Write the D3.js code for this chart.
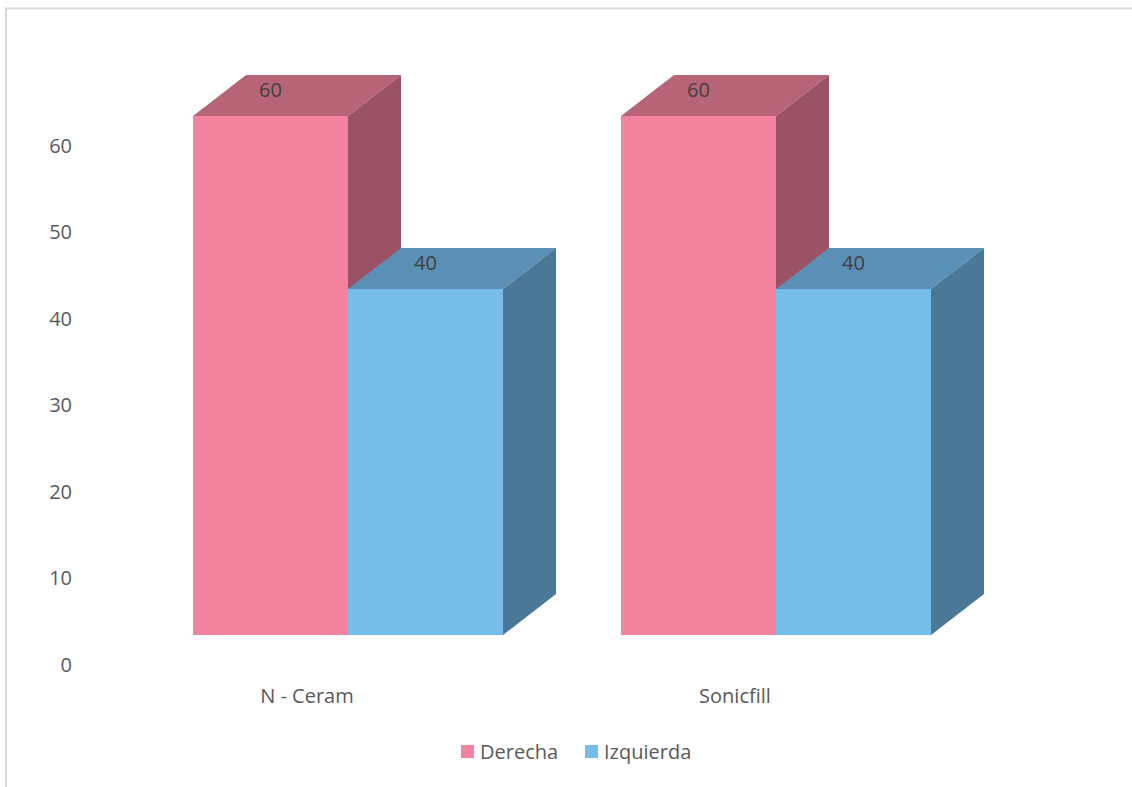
<!DOCTYPE html>
<html>
<head>
<meta charset="utf-8">
<script src="https://cdn.jsdelivr.net/npm/d3@7"></script>
<style>
  body { margin: 0; background: #fff; }
  text { font-family: "Open Sans", "Noto Sans", sans-serif; fill: #595959; }
</style>
</head>
<body>
<svg id="chart" width="1132" height="787"></svg>
<script>
// categories and series
var categories = ['N - Ceram', 'Sonicfill']
var seriesNames = ['Derecha', 'Izquierda']
var derecha = [60, 60]
var izquierda = [40, 40]
var yTicks = [0, 10, 20, 30, 40, 50, 60]

var colors = {
  Derecha: { front: '#F4839F', top: '#B86477', side: '#9A5264' },
  Izquierda: { front: '#75BEE9', top: '#5A90B5', side: '#4A7896' }
}

var svg = d3.select('#chart')

// light frame, left and top edges only visible
svg.append('path')
  .attr('d', 'M6,787 V8.5 H1132')
  .attr('fill', 'none')
  .attr('stroke', '#d9d9d9')
  .attr('stroke-width', 2)

var depthX = 53
var depthY = 41

// front faces of the columns
var y = d3.scaleLinear().domain([0, 60]).range([635, 116])
// value labels on the back wall
var yAxisScale = d3.scaleLinear().domain([0, 60]).range([665, 146])

var x0 = d3.scalePoint().domain(categories).range([348, 776])
var x1 = d3.scaleBand().domain(seriesNames).range([-155, 155])

var yAxis = svg.append('g')
  .attr('transform', 'translate(72,0)')
  .call(d3.axisLeft(yAxisScale).tickValues(yTicks).tickSize(0).tickPadding(0))
yAxis.select('.domain').remove()
yAxis.selectAll('text')
  .style('font-size', '20px')
  .attr('font-family', null)
  .style('fill', '#595959')

// flatten into one record per column
var bars = []
categories.forEach(function (c, i) {
  bars.push({ cat: c, name: 'Derecha', value: derecha[i] })
  bars.push({ cat: c, name: 'Izquierda', value: izquierda[i] })
})

// draw back-to-front so the right column's faces cover the left one's side
var g = svg.append('g')
var node = g.selectAll('g.bar')
  .data(bars)
  .enter()
  .append('g')
  .attr('class', 'bar')

function corners (d) {
  var xl = x0(d.cat) + x1(d.name)
  var xr = xl + x1.bandwidth()
  return { xl: xl, xr: xr, yt: y(d.value), yb: y(0) }
}

// top face
node.append('path')
  .attr('fill', function (d) { return colors[d.name].top })
  .attr('d', function (d) {
    var c = corners(d)
    return 'M' + c.xl + ',' + c.yt +
      'L' + (c.xl + depthX) + ',' + (c.yt - depthY) +
      'L' + (c.xr + depthX) + ',' + (c.yt - depthY) +
      'L' + c.xr + ',' + c.yt + 'Z'
  })

// side face
node.append('path')
  .attr('fill', function (d) { return colors[d.name].side })
  .attr('d', function (d) {
    var c = corners(d)
    return 'M' + c.xr + ',' + c.yt +
      'L' + (c.xr + depthX) + ',' + (c.yt - depthY) +
      'L' + (c.xr + depthX) + ',' + (c.yb - depthY) +
      'L' + c.xr + ',' + c.yb + 'Z'
  })

// front face
node.append('rect')
  .attr('fill', function (d) { return colors[d.name].front })
  .attr('x', function (d) { return corners(d).xl })
  .attr('y', function (d) { return y(d.value) })
  .attr('width', x1.bandwidth())
  .attr('height', function (d) { return y(0) - y(d.value) })

// value labels sitting on the top face
node.append('text')
  .attr('x', function (d) { return corners(d).xl + x1.bandwidth() / 2 })
  .attr('y', function (d) { return y(d.value) - 26 })
  .attr('dy', '0.35em')
  .attr('text-anchor', 'middle')
  .style('font-size', '20px')
  .style('fill', '#404040')
  .text(function (d) { return d.value })

// category labels on the floor
svg.append('g').selectAll('text')
  .data(categories)
  .enter()
  .append('text')
  .attr('x', function (d) { return x0(d) - 41 })
  .attr('y', 696)
  .attr('dy', '0.35em')
  .attr('text-anchor', 'middle')
  .style('font-size', '20px')
  .text(function (d) { return d })

// legend
var legendX = [461, 585]
var legend = svg.append('g').selectAll('g')
  .data(seriesNames)
  .enter()
  .append('g')
  .attr('transform', function (d, i) { return 'translate(' + legendX[i] + ',745)' })

legend.append('rect')
  .attr('width', 13)
  .attr('height', 13)
  .attr('fill', function (d) { return colors[d].front })

legend.append('text')
  .attr('x', 19)
  .attr('y', 7)
  .attr('dy', '0.35em')
  .style('font-size', '20px')
  .text(function (d) { return d })
</script>
</body>
</html>
